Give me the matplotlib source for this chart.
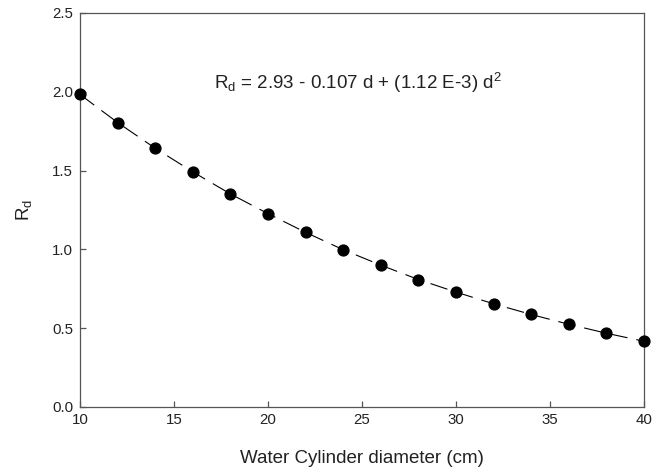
import numpy as np
import matplotlib
matplotlib.use("Agg")
import matplotlib.pyplot as plt

plt.rcParams['font.family'] = ['Liberation Sans', 'DejaVu Sans']
plt.rcParams['mathtext.fontset'] = 'custom'
plt.rcParams['mathtext.rm'] = 'Liberation Sans'
plt.rcParams['mathtext.it'] = 'Liberation Sans'

# diameter (cm) and measured R_d
diameter = [10, 12, 14, 16, 18, 20, 22, 24, 26, 28, 30, 32, 34, 36, 38, 40]
rd = [1.983, 1.805, 1.642, 1.492, 1.352, 1.227, 1.108, 0.998,
      0.900, 0.809, 0.729, 0.655, 0.587, 0.525, 0.468, 0.417]

xticks = [10, 15, 20, 25, 30, 35, 40]
yticks = [0.0, 0.5, 1.0, 1.5, 2.0, 2.5]

fig = plt.figure(figsize=(6.62, 4.71), dpi=100)
ax = fig.add_axes([80/662, 1 - 407/471, 564/662, 394/471])

ax.plot(diameter, rd, color='black', lw=0.8, dashes=(16, 8), clip_on=False)
ax.plot(diameter, rd, 'o', color='black', ms=7.8, clip_on=False, zorder=3)

ax.set_xlim(10, 40)
ax.set_ylim(0, 2.5)
ax.set_xticks(xticks)
ax.set_yticks(yticks)
ax.set_yticklabels(['%.1f' % v for v in yticks])

for s in ax.spines.values():
    s.set_color('#555555')
    s.set_linewidth(0.9)
ax.tick_params(direction='in', length=4.5, width=0.9, color='#555555',
               labelsize=10.8, labelcolor='#222222')
ax.tick_params(axis='x', pad=4)
ax.tick_params(axis='y', pad=5)

ax.set_xlabel('Water Cylinder diameter (cm)', fontsize=13.5, labelpad=17, color='#222222')
ax.set_ylabel(r'R$_\mathregular{d}$', fontsize=13.5, labelpad=13, color='#222222')

ax.text(24.79, 2.02, r'R$_\mathregular{d}$ = 2.93 - 0.107 d + (1.12 E-3) d$^\mathregular{2}$',
        fontsize=13.5, ha='center', va='baseline', color='#222222')

fig.savefig('out.png', dpi=100)
